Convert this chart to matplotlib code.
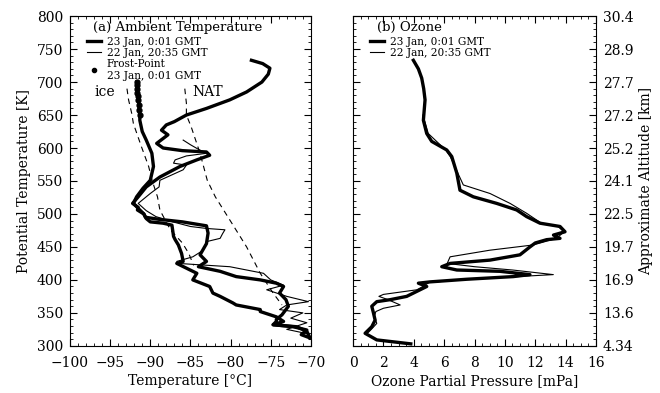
import numpy as np
import matplotlib
matplotlib.use("Agg")
import matplotlib.pyplot as plt
from matplotlib.lines import Line2D
from matplotlib.ticker import MultipleLocator

plt.rcParams['font.family'] = ['DejaVu Serif']

# (a) temperature, 23 Jan 0:01 GMT  (theta [K], T [C])
th_t23 = [733, 728, 721, 712, 700, 685, 673, 660, 650, 640, 635, 627, 620, 607, 600, 596,
          594, 589, 582, 572, 556, 541, 526, 516, 510, 506, 500, 495, 492, 488, 482, 471,
          455, 438, 428, 420, 413, 405, 400, 395, 390, 380, 370, 360, 347, 340, 337, 332,
          329, 324, 317, 312]
t_t23 = [-77.4, -76.0, -75.1, -75.3, -76.1, -78.0, -80.1, -83.0, -85.5, -87.0, -88.0, -88.6,
         -87.8, -89.2, -88.4, -86.0, -83.0, -82.6, -84.2, -86.3, -88.8, -90.5, -91.5, -92.2,
         -91.5, -91.6, -90.8, -90.6, -89.0, -86.0, -83.0, -82.8, -83.0, -83.8, -83.0, -84.0,
         -81.3, -79.3, -76.3, -74.3, -73.4, -73.9, -73.1, -72.8, -73.6, -74.3, -74.3, -74.7,
         -72.2, -70.5, -71.2, -70.1]

# temperature, 22 Jan 20:35 GMT
th_t22 = [612, 605, 598, 592, 588, 582, 577, 574, 567, 551, 541, 531, 523, 516, 505, 496,
          488, 481, 478, 476, 470, 463, 458, 445, 435, 428, 425, 423, 420, 415, 410, 400,
          392, 385, 375, 367, 362, 355, 350, 342, 335, 325, 318, 310]
t_t22 = [-85.9, -85.0, -84.0, -83.0, -85.5, -86.9, -87.1, -85.5, -85.9, -88.8, -88.9, -90.0,
         -90.8, -91.5, -90.5, -89.3, -87.2, -85.0, -83.0, -80.7, -81.0, -81.3, -83.0, -83.4,
         -84.7, -86.7, -86.5, -84.0, -80.1, -78.0, -75.9, -75.0, -73.4, -75.5, -73.0, -70.3,
         -73.0, -73.9, -71.0, -72.5, -70.5, -73.0, -70.3, -70.0]

# frost point, 23 Jan 0:01 GMT
th_fp = [700, 695, 690, 684, 679, 673, 665, 658, 650, 642, 625, 612, 592, 572, 551, 539,
         526, 516, 506, 500, 493, 488, 486, 483, 466, 461, 453, 440, 428, 425, 410, 400,
         390, 380, 375, 365, 362, 355, 352, 344, 337, 332, 329, 322, 312]
t_fp = [-91.7, -91.7, -91.6, -91.6, -91.5, -91.5, -91.4, -91.4, -91.3, -91.3, -91.0, -90.5,
        -89.8, -89.6, -90.0, -90.9, -91.7, -92.1, -91.3, -90.8, -90.5, -90.0, -88.4, -87.3,
        -87.1, -86.9, -86.5, -86.1, -85.9, -86.7, -84.2, -84.7, -82.6, -82.2, -81.3, -79.7,
        -79.3, -76.3, -76.3, -74.3, -73.4, -74.7, -71.8, -70.5, -70.1]

# ice and NAT saturation temperatures
th_ice = [690, 673, 652, 637, 602, 572, 552, 526, 506, 476, 456, 440, 422]
t_ice = [-92.9, -92.7, -92.3, -92.1, -91.1, -90.2, -89.8, -89.1, -88.8, -87.5, -86.0, -85.2, -84.6]
th_nat = [690, 668, 650, 632, 592, 551, 526, 491, 450, 410, 380, 362]
t_nat = [-85.7, -85.5, -85.5, -84.9, -83.8, -82.9, -81.9, -80.1, -78.0, -76.3, -74.7, -73.6]

# (b) ozone partial pressure [mPa]
th_o23 = [733, 720, 706, 690, 673, 642, 622, 610, 597, 587, 562, 536, 526, 516, 506, 496,
          486, 481, 473, 468, 463, 461, 456, 450, 438, 430, 425, 420, 415, 413, 408, 405,
          401, 397, 395, 390, 385, 375, 370, 367, 360, 350, 339, 329, 319, 309, 303]
p_o23 = [3.97, 4.3, 4.52, 4.65, 4.74, 4.63, 4.85, 5.18, 6.17, 6.50, 6.83, 7.04, 7.92, 9.46,
         10.78, 11.43, 12.31, 13.63, 13.96, 13.2, 13.63, 12.75, 12.0, 11.65, 10.99, 9.02,
         6.39, 5.84, 6.83, 9.68, 11.65, 10.55, 7.5, 5.07, 4.30, 4.85, 4.41, 3.53, 2.44,
         1.56, 1.23, 1.34, 1.45, 1.23, 0.79, 1.56, 3.8]
th_o22 = [650, 642, 622, 610, 597, 587, 562, 544, 531, 516, 501, 486, 481, 473, 463, 453,
          445, 435, 425, 420, 415, 408, 404, 400, 396, 390, 385, 378, 375, 370, 362, 357,
          352, 345, 334, 325, 318]
p_o22 = [4.6, 4.7, 4.95, 5.5, 6.1, 6.4, 6.9, 7.26, 9.02, 10.34, 11.43, 12.4, 13.5, 13.9,
         13.4, 11.87, 9.0, 6.39, 6.2, 8.0, 10.5, 13.19, 10.0, 7.0, 5.0, 4.6, 4.2, 2.0, 1.7,
         2.3, 3.1, 2.0, 1.5, 1.4, 1.56, 1.2, 0.9]

theta_ticks = [300, 350, 400, 450, 500, 550, 600, 650, 700, 750, 800]
alt_labels = ['4.34', '13.6', '16.9', '19.7', '22.5', '24.1', '25.2', '27.2', '27.7', '28.9', '30.4']

fig = plt.figure(figsize=(6.6, 3.93), dpi=100)
ax1 = fig.add_axes([0.106, 0.120, 0.365, 0.839])
ax2 = fig.add_axes([0.535, 0.120, 0.368, 0.839])

ax1.plot(t_ice, th_ice, 'k--', lw=0.8, dashes=(5, 4))
ax1.plot(t_nat, th_nat, 'k--', lw=0.8, dashes=(5, 4))
ax1.plot(t_t22, th_t22, 'k-', lw=0.8)
dot_idx = [i for i, v in enumerate(th_fp) if v >= 650]
ax1.plot(t_fp, th_fp, 'k-', lw=2.4, marker='o', ms=3.5, markevery=dot_idx)
ax1.plot(t_t23, th_t23, 'k-', lw=2.4, solid_joinstyle='round')
ax1.text(-96.9, 679, 'ice', fontsize=10)
ax1.text(-84.7, 679, 'NAT', fontsize=10)

ax2.plot(p_o22, th_o22, 'k-', lw=0.8)
ax2.plot(p_o23, th_o23, 'k-', lw=2.4, solid_joinstyle='round')

for ax in (ax1, ax2):
    ax.set_ylim(300, 800)
    ax.yaxis.set_major_locator(MultipleLocator(50))
    ax.yaxis.set_minor_locator(MultipleLocator(10))
    ax.tick_params(which='both', direction='in', top=True, right=True, labelsize=10)
    ax.tick_params(which='major', length=5, width=0.8)
    ax.tick_params(which='minor', length=2.5, width=0.6)
    ax.tick_params(axis='x', which='major', pad=7)
    ax.tick_params(axis='y', which='major', pad=5)

ax1.set_xlim(-100, -70)
ax1.xaxis.set_minor_locator(MultipleLocator(1))
ax1.set_xticks([-100, -95, -90, -85, -80, -75, -70],
               ['\u2212100', '\u221295', '\u221290', '\u221285', '\u221280', '\u221275', '\u221270'])
ax1.set_xlabel('Temperature [\u00b0C]', fontsize=10, labelpad=3)
ax1.set_ylabel('Potential Temperature [K]', fontsize=10)

ax2.set_xlim(0, 16)
ax2.xaxis.set_major_locator(MultipleLocator(2))
ax2.xaxis.set_minor_locator(MultipleLocator(0.5))
ax2.set_yticks(theta_ticks, alt_labels)
ax2.tick_params(labelleft=False, labelright=True)
ax2.yaxis.set_label_position('right')
ax2.set_ylabel('Approximate Altitude [km]', fontsize=10)
ax2.set_xlabel('Ozone Partial Pressure [mPa]', fontsize=10, labelpad=3)

ax1.text(0.095, 0.985, '(a) Ambient Temperature', transform=ax1.transAxes, fontsize=9.5, va='top')
ax2.text(0.10, 0.985, '(b) Ozone', transform=ax2.transAxes, fontsize=9.5, va='top')

h_thick = Line2D([], [], color='k', lw=2.4)
h_thin = Line2D([], [], color='k', lw=0.8)
h_dots = Line2D([], [], color='k', ls='none', marker='o', ms=3)
leg_kw = dict(loc='upper left', bbox_to_anchor=(0.07, 0.937), frameon=False, fontsize=7.6,
              handlelength=1.3, handletextpad=0.6, labelspacing=0.1, borderpad=0.0,
              borderaxespad=0.0)
ax1.legend([h_thick, h_thin, h_dots],
           ['23 Jan, 0:01 GMT', '22 Jan, 20:35 GMT', 'Frost-Point\n23 Jan, 0:01 GMT'],
           **leg_kw)
ax2.legend([h_thick, h_thin], ['23 Jan, 0:01 GMT', '22 Jan, 20:35 GMT'], **leg_kw)

fig.savefig('out.png', dpi=100)
